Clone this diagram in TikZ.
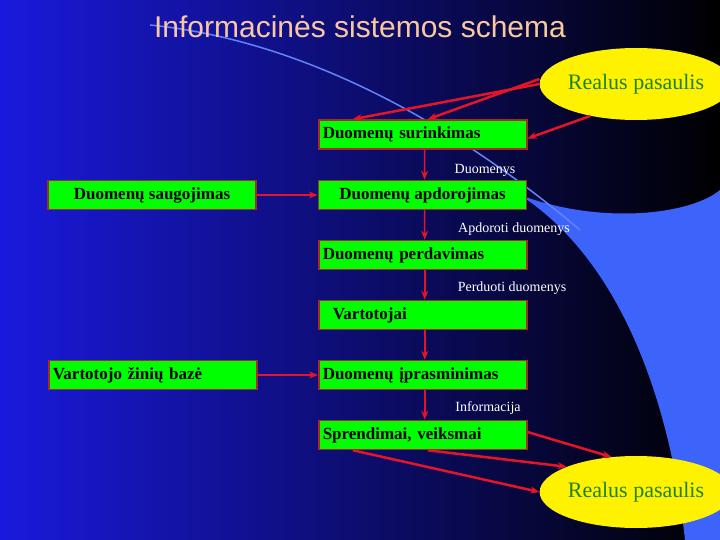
\documentclass[tikz,border=0pt]{standalone}
\usepackage{fontspec}
\setmainfont{Liberation Serif}
\newfontfamily\titlefont{Liberation Sans}
\usetikzlibrary{shapes.geometric,arrows.meta}
\definecolor{boxgreen}{RGB}{0,255,0}
\definecolor{boxedge}{RGB}{170,40,40}
\definecolor{arrred}{RGB}{230,20,40}
\definecolor{peach}{RGB}{250,200,160}
\definecolor{swoosh}{RGB}{60,100,250}
\definecolor{txtgreen}{RGB}{30,130,30}
\begin{document}
\begin{tikzpicture}
        [x=1pt,y=-1pt,
         stage/.style={draw=boxedge,line width=1.5pt,fill=boxgreen,minimum width=208pt,minimum height=29pt,inner ysep=0,inner xsep=4pt,font=\bfseries\fontsize{17}{19}\selectfont},
         world/.style={ellipse,fill=yellow,minimum width=155pt,minimum height=72pt,inner sep=0,text=txtgreen,font=\fontsize{22}{24}\selectfont},
         flow/.style={text=white,font=\fontsize{14}{16}\selectfont,inner sep=1pt},
         link/.style={-{Stealth[length=9pt,width=7pt]},arrred,line width=2.5pt}]

        \useasboundingbox (0,0) rectangle (720,540);
        \shade[left color=blue!85!black!90,right color=black] (0,0) rectangle (720,540);
        \fill[swoosh] (520,195) .. controls (620,260) and (670,400) .. (685,540) -- (720,540) -- (720,190) .. controls (690,215) and (600,225) .. (520,195);
        \draw[swoosh!80!white,line width=1.5pt] (150,25) .. controls (300,40) and (450,120) .. (580,230);

        \node[text=peach,font=\titlefont\fontsize{30}{32}\selectfont] (title) at (360,27) {Informacinės sistemos schema};

        \node[world] (w1) at (636,84) {Realus pasaulis};
        \node[world] (w2) at (636,492) {Realus pasaulis};

        \node[stage,anchor=west,text width=200pt] (s1) at (318,134.5) {Duomenų surinkimas};
        \node[stage] (s2) at (422.5,195) {Duomenų apdorojimas};
        \node[stage] (s0) at (152,195) {Duomenų saugojimas};
        \node[stage,anchor=west,text width=200pt] (s3) at (318,255) {Duomenų perdavimas};
        \node[stage,anchor=west,text width=200pt] (s4) at (318,315) {\hspace*{10pt}Vartotojai};
        \node[stage,anchor=west,text width=200pt] (s5) at (48,375) {Vartotojo žinių bazė};
        \node[stage,anchor=west,text width=200pt] (s6) at (318,375) {Duomenų įprasminimas};
        \node[stage,anchor=west,text width=200pt] (s7) at (318,435) {Sprendimai, veiksmai};

        \node[flow] (f1) at (485,170) {Duomenys};
        \node[flow] (f2) at (514,229) {Apdoroti duomenys};
        \node[flow] (f3) at (512,288) {Perduoti duomenys};
        \node[flow] (f4) at (488,408) {Informacija};

        \draw[link] (w1.west) -- ([xshift=-70pt]s1.north);
        \draw[link] ([yshift=5pt]w1.west) -- ([xshift=5pt]s1.north);
        \draw[link] (w1.215) -- ([yshift=-4pt]s1.east);
        \draw[link,line width=1.5pt] ([xshift=2pt]s1.south) -- ([xshift=2pt]s2.north);
        \draw[link,line width=1.5pt] (s0) -- (s2);
        \draw[link,line width=1.5pt] ([xshift=2pt]s2.south) -- ([xshift=2pt]s3.north);
        \draw[link,line width=1.5pt] ([xshift=2pt]s3.south) -- ([xshift=2pt]s4.north);
        \draw[link,line width=1.5pt] ([xshift=2pt]s4.south) -- ([xshift=2pt]s6.north);
        \draw[link,line width=1.5pt] (s5) -- (s6);
        \draw[link,line width=1.5pt] ([xshift=2pt]s6.south) -- ([xshift=2pt]s7.north);
        \draw[link] ([yshift=3pt]s7.east) -- (w2.125);
        \draw[link] ([xshift=5pt]s7.south) -- (w2.160);
        \draw[link] ([xshift=-70pt]s7.south) -- (w2.west);

      \end{tikzpicture}
\end{document}
